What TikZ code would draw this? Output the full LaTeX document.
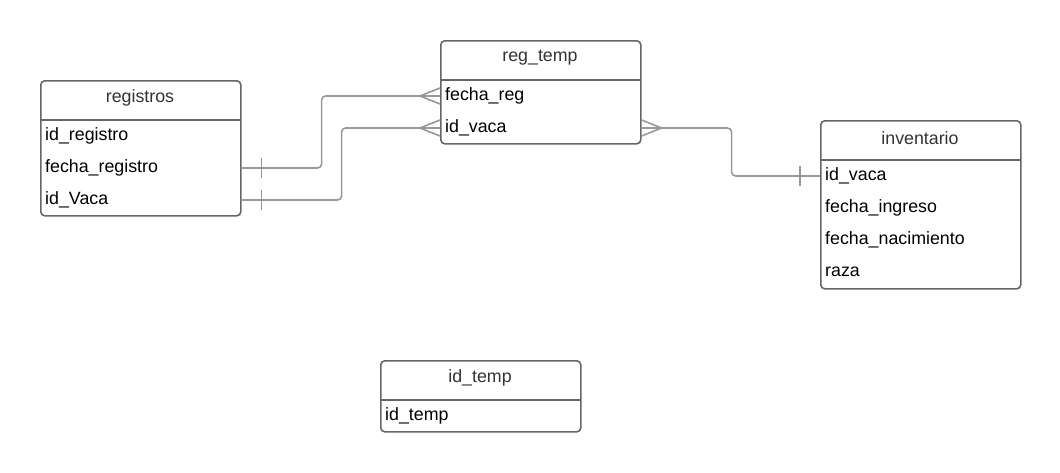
\documentclass[tikz,border=0pt]{standalone}
\usepackage{fontspec}
\setmainfont{Liberation Sans}
\usetikzlibrary{calc}
\definecolor{boxgray}{HTML}{666666}
\definecolor{conngray}{HTML}{999999}
\definecolor{hdrtext}{HTML}{333333}
\tikzset{
  tbl/.style={draw=boxgray, line width=1.6pt, rounded corners=4pt, minimum width=200pt, inner sep=0pt, anchor=north west},
  div/.style={draw=boxgray, line width=1.6pt},
  hdr/.style={font=\fontsize{17.8}{20}\selectfont, text=hdrtext, inner sep=0pt},
  row/.style={font=\fontsize{17.8}{20}\selectfont, text=black, anchor=west, inner sep=0pt, minimum height=32pt},
  conn/.style={draw=conngray, line width=1.6pt, rounded corners=4pt},
  foot/.style={draw=conngray, line width=1.6pt},
}
\begin{document}
\begin{tikzpicture}[x=1pt, y=-1pt]
\useasboundingbox (0,0) rectangle (1060,472);

% registros
\node[tbl, minimum height=135pt] (registros) at (40,80) {};
\draw[div] (40,120) -- (240,120);
\node[hdr] (registros-h) at (140,98) {registros};
\node[row] (reg-id) at (45,136) {id\_registro};
\node[row] (reg-fecha) at (45,168) {fecha\_registro};
\node[row] (reg-vaca) at (45,200) {id\_Vaca};

% reg_temp
\node[tbl, minimum height=103pt] (regtemp) at (440,40) {};
\draw[div] (440,80) -- (640,80);
\node[hdr] (regtemp-h) at (540,58) {reg\_temp};
\node[row] (rt-fecha) at (445,96) {fecha\_reg};
\node[row] (rt-vaca) at (445,128) {id\_vaca};

% inventario
\node[tbl, minimum height=168pt] (inventario) at (820,120) {};
\draw[div] (820,160) -- (1020,160);
\node[hdr] (inventario-h) at (920,138) {inventario};
\node[row] (inv-vaca) at (825,176) {id\_vaca};
\node[row] (inv-ingreso) at (825,208) {fecha\_ingreso};
\node[row] (inv-nac) at (825,240) {fecha\_nacimiento};
\node[row] (inv-raza) at (825,272) {raza};

% id_temp
\node[tbl, minimum height=71pt] (idtemp) at (380,360) {};
\draw[div] (380,400) -- (580,400);
\node[hdr] (idtemp-h) at (480,378) {id\_temp};
\node[row] (it-id) at (385,416) {id\_temp};

% connector 1: registros.fecha_registro -> reg_temp.fecha_reg
\coordinate (c1s) at (registros.east |- reg-fecha.west);
\coordinate (c1e) at (regtemp.west |- rt-fecha.west);
\draw[conn] (c1s) -- ($(c1s)+(80,0)$) |- (c1e);
\draw[foot] ($(c1s)+(20,-10)$) -- ($(c1s)+(20,10)$);
\draw[foot] ($(c1e)+(0,-8)$) -- ($(c1e)+(-20,0)$) -- ($(c1e)+(0,8)$);

% connector 2: registros.id_Vaca -> reg_temp.id_vaca
\coordinate (c2s) at (registros.east |- reg-vaca.west);
\coordinate (c2e) at (regtemp.west |- rt-vaca.west);
\draw[conn] (c2s) -- ($(c2s)+(100,0)$) |- (c2e);
\draw[foot] ($(c2s)+(20,-10)$) -- ($(c2s)+(20,10)$);
\draw[foot] ($(c2e)+(0,-8)$) -- ($(c2e)+(-20,0)$) -- ($(c2e)+(0,8)$);

% connector 3: reg_temp.id_vaca -> inventario.id_vaca
\coordinate (c3s) at (regtemp.east |- rt-vaca.west);
\coordinate (c3e) at (inventario.west |- inv-vaca.west);
\draw[conn] (c3s) -- ($(c3s)+(90,0)$) |- (c3e);
\draw[foot] ($(c3s)+(0,-8)$) -- ($(c3s)+(20,0)$) -- ($(c3s)+(0,8)$);
\draw[foot] ($(c3e)+(-20,-10)$) -- ($(c3e)+(-20,10)$);
\end{tikzpicture}
\end{document}
